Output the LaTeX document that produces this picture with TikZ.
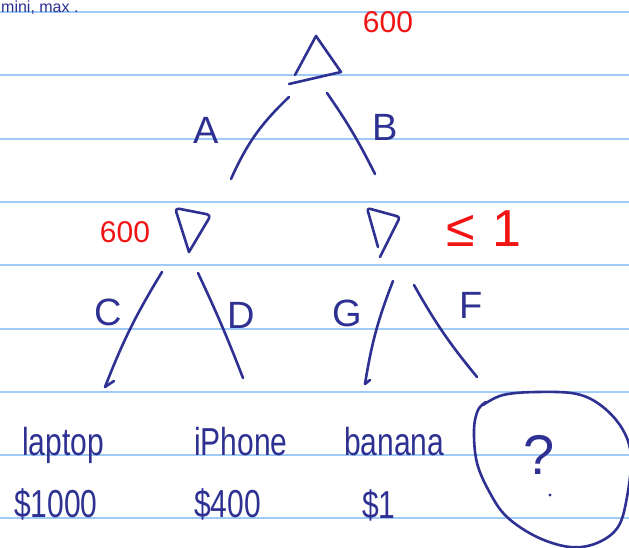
\documentclass[tikz,border=0pt]{standalone}
\usepackage{fontspec}
\setmainfont{Liberation Sans}
\definecolor{ink}{RGB}{46,49,146}
\definecolor{redink}{RGB}{240,20,20}
\definecolor{rulecol}{RGB}{160,203,246}
\newcommand{\tallx}[1]{\scalebox{1}[1.3]{#1}}
\begin{document}
\begin{tikzpicture}[x=1pt,y=-1pt,
  pen/.style={draw=ink,line width=2.6pt,line cap=round,line join=round},
  ruleline/.style={draw=rulecol,line width=2pt},
  lbl/.style={text=ink,font=\fontsize{38}{40}\selectfont,inner sep=0pt},
  leaf/.style={text=ink,font=\fontsize{30}{32}\selectfont,inner sep=0pt,anchor=base west},
  val/.style={text=redink,font=\fontsize{30}{32}\selectfont,inner sep=0pt}]
\useasboundingbox (0,0) rectangle (629,548);
\fill[white] (0,0) rectangle (629,548);
\clip (0,0) rectangle (629,548);
\foreach \i in {0,...,8}
  \draw[ruleline] (0,{12+63.3*\i}) -- (629,{12+63.3*\i});

% top-left fragment
\node[text=ink,font=\fontsize{16}{17}\selectfont,inner sep=0pt,anchor=base west] (frag) at (1,12.5) {mini, max .};

% max root triangle
\draw[pen] (295,75) -- (316,36) -- (341,72) -- (289,84);
\node[val] (v0) at (388,22) {600};

% min triangles
\draw[pen,rounded corners=4pt] (189,252) -- (175,208) -- (211,215) -- (189,252);
\node[val] (v1) at (125,232) {600};
\draw[pen,rounded corners=3pt] (378,247) -- (367,208) -- (400,217) -- (380,257);
\node[text=redink,font=\fontsize{52}{54}\selectfont,inner sep=0pt] (v2) at (484,229) {≤\hspace{18pt}1};

% edge coordinates
\coordinate (a1) at (289,97);  \coordinate (a2) at (231,179);
\coordinate (b1) at (327,93);  \coordinate (b2) at (375,174);
\coordinate (c1) at (162,272); \coordinate (c2) at (105,387);
\coordinate (d1) at (198,273); \coordinate (d2) at (243,378);
\coordinate (g1) at (393,281); \coordinate (g2) at (365,384);
\coordinate (f1) at (414,285); \coordinate (f2) at (477,377);
\coordinate (ch) at (114,381); \coordinate (gh) at (370,380);

\draw[pen] (a1) to[bend right=11] (a2);
\draw[pen] (b1) to[bend left=4] (b2);
\draw[pen] (c1) to[bend right=5] (c2) -- (ch);
\draw[pen] (d1) to[bend left=2] (d2);
\draw[pen] (g1) to[bend right=6] (g2) -- (gh);
\draw[pen] (f1) to[bend right=5] (f2);

% edge labels
\node[lbl] (la) at (206,130) {A};
\node[lbl] (lb) at (385,127) {B};
\node[lbl] (lc) at (108,312) {C};
\node[lbl] (ld) at (241,315) {D};
\node[lbl] (lg) at (347,313) {G};
\node[lbl] (lf) at (471,305) {F};

% leaves
\node[leaf] (laptop) at (22,455) {\tallx{laptop}};
\node[leaf] (iphone) at (194,455) {\tallx{iPhone}};
\node[leaf] (banana) at (344,455) {\tallx{banana}};
\node[leaf] (p1) at (14,517) {\tallx{\$1000}};
\node[leaf] (p2) at (194,517) {\tallx{\$400}};
\node[leaf] (p3) at (362,518) {\tallx{\$1}};

% circled question
\draw[pen] plot[smooth,tension=0.6] coordinates {(483,405) (503,395) (537,392) (577,394) (603,407) (623,430) (631,457) (627,497) (618,527) (597,543) (570,547) (537,537) (507,517) (490,493) (477,463) (474,430) (478,410) (486,402)};
\node[text=ink,font=\fontsize{56}{58}\selectfont,inner sep=0pt,anchor=base] (q) at (539,474) {?};
\fill[ink] (550,495) circle (1.6);
\end{tikzpicture}
\end{document}
